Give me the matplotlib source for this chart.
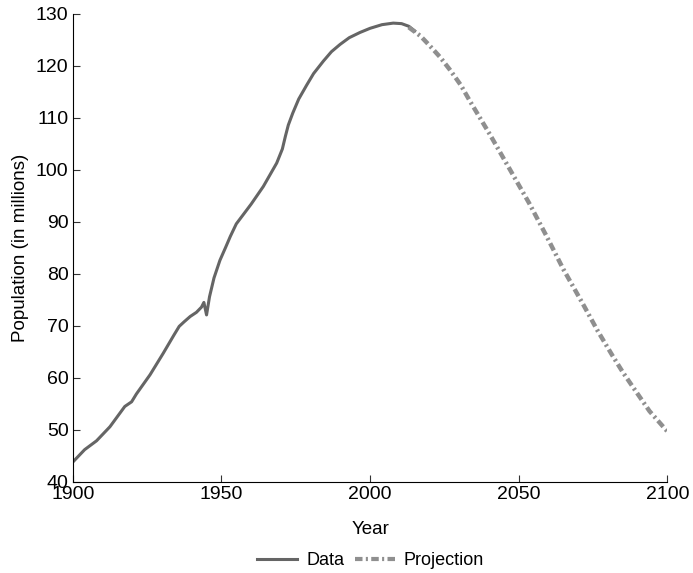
import matplotlib.pyplot as plt
from matplotlib.lines import Line2D

plt.rcParams['font.family'] = ['Liberation Sans', 'DejaVu Sans']

# historical population, millions
years = [1900, 1904, 1908, 1912.5, 1917.5, 1919.8, 1921.4, 1926, 1930.4, 1934,
         1935.8, 1937.5, 1939.5, 1941.6, 1943.3, 1944.1, 1945, 1946, 1947.5,
         1949.5, 1951.5, 1953, 1955, 1957.5, 1960, 1964.1, 1968.6, 1970.5,
         1971.5, 1972.5, 1974, 1976, 1978.7, 1981, 1984.3, 1987, 1989.9,
         1993, 1996.6, 2000, 2004, 2007.8, 2010.6, 2013, 2015]
pop = [43.8, 46.2, 47.9, 50.6, 54.5, 55.4, 56.9, 60.6, 64.7, 68.2,
       69.9, 70.8, 71.8, 72.6, 73.6, 74.5, 72.1, 75.6, 79.2,
       82.6, 85.2, 87.2, 89.6, 91.5, 93.4, 96.8, 101.3, 104.0,
       106.4, 108.6, 110.9, 113.6, 116.3, 118.5, 120.9, 122.7, 124.1,
       125.4, 126.4, 127.2, 127.9, 128.2, 128.1, 127.6, 126.7]

# projected population, millions
proj_years = [2013, 2017, 2020, 2023.5, 2026.9, 2030.5, 2033.7, 2040.4,
              2047.1, 2053.5, 2059.4, 2065, 2071.8, 2076.5, 2081.4, 2085,
              2088.7, 2094, 2100]
proj_pop = [127.4, 125.7, 123.9, 121.7, 119.2, 116.3, 113.1, 106.7,
            100.0, 93.6, 87.2, 80.9, 74.0, 69.1, 64.4, 61.1,
            58.0, 53.6, 49.7]

fig = plt.figure(figsize=(6.93, 5.73), dpi=100)
ax = fig.add_axes([0.105, 0.159, 0.858, 0.817])

proj_dashes = (1.8, 0.8, 0.5, 0.8)
ax.plot(years, pop, color='#656565', lw=2.2)
ax.plot(proj_years, proj_pop, color='#8f8f8f', lw=3.2, dashes=proj_dashes)

ax.set_xlim(1900, 2100)
ax.set_ylim(40, 130)
ax.set_xticks([1900, 1950, 2000, 2050, 2100])
ax.set_yticks(range(40, 131, 10))
ax.tick_params(direction='in', labelsize=14, length=5, color='#333333', pad=3)
ax.spines['top'].set_visible(False)
ax.spines['right'].set_visible(False)
ax.set_xlabel('Year', fontsize=13.5, labelpad=13)
ax.set_ylabel('Population (in millions)', fontsize=13.5, labelpad=5)

handles = [Line2D([], [], color='#656565', lw=2.2),
           Line2D([], [], color='#8f8f8f', lw=3, dashes=proj_dashes)]
fig.legend(handles, ['Data', 'Projection'], loc='center', bbox_to_anchor=(0.535, 0.022),
           ncol=2, frameon=False, fontsize=13, handlelength=2.2, columnspacing=0.6,
           handletextpad=0.5)

fig.savefig('out.png')
